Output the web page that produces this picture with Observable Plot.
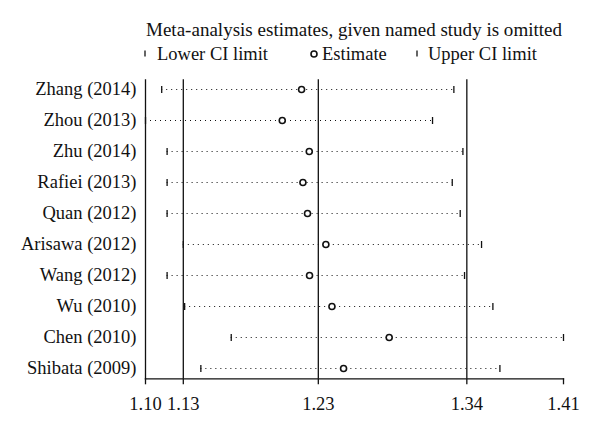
<!DOCTYPE html>
<html>
<head>
<meta charset="utf-8">
<script src="https://cdn.jsdelivr.net/npm/d3@7"></script>
<script src="https://cdn.jsdelivr.net/npm/@observablehq/plot@0.6"></script>
<style>
  html, body { margin: 0; padding: 0; background: #fff; }
  #wrap { position: relative; width: 600px; height: 435px; overflow: hidden; font-family: "Liberation Serif", "DejaVu Serif", serif; }
  #header { position: absolute; left: 0; top: 0; }
  #chart { position: absolute; left: 0; top: 70px; }
</style>
</head>
<body>
<div id="wrap">
  <svg id="header" width="600" height="70"></svg>
  <div id="chart"></div>
</div>
<script>
const title = "Meta-analysis estimates, given named study is omitted";
const legendLabels = ["Lower CI limit", "Estimate", "Upper CI limit"];

const studies = ["Zhang (2014)", "Zhou (2013)", "Zhu (2014)", "Rafiei (2013)", "Quan (2012)",
                 "Arisawa (2012)", "Wang (2012)", "Wu (2010)", "Chen (2010)", "Shibata (2009)"];
const lower    = [1.112, 1.100, 1.116, 1.116, 1.116, 1.128, 1.116, 1.129, 1.1635, 1.141];
const estimate = [1.2156, 1.2013, 1.2213, 1.2166, 1.2200, 1.2336, 1.2215, 1.2381, 1.2805, 1.2467];
const upper    = [1.3284, 1.3126, 1.3351, 1.3272, 1.3331, 1.3489, 1.3363, 1.3573, 1.4096, 1.3625];

// overall pooled estimate: lower CI, estimate, upper CI
const overall = [1.128, 1.228, 1.338];

const tickValues = [1.100, 1.128, 1.228, 1.338, 1.4096];
const tickLabels = ["1.10", "1.13", "1.23", "1.34", "1.41"];

const rows = studies.map((s, i) => ({study: s, lower: lower[i], estimate: estimate[i], upper: upper[i]}));

const vtick = { draw(ctx, size) { ctx.moveTo(0, -3.5); ctx.lineTo(0, 3.5); } };

// Header (title + legend)
const hdr = d3.select("#header");
const font = "Liberation Serif, DejaVu Serif, serif";
hdr.append("text").attr("x", 354).attr("y", 36).attr("text-anchor", "middle")
  .attr("font-family", font).attr("font-size", 19).attr("fill", "#111")
  .attr("textLength", 416).attr("lengthAdjust", "spacing").text(title);
const ly = 59.5;
hdr.append("line").attr("x1", 145).attr("x2", 145).attr("y1", ly - 9).attr("y2", ly - 3).attr("stroke", "#111").attr("stroke-width", 1.3);
hdr.append("text").attr("x", 157).attr("y", ly).attr("font-family", font).attr("font-size", 18.5).attr("fill", "#111").text(legendLabels[0]);
hdr.append("circle").attr("cx", 314).attr("cy", ly - 5.5).attr("r", 3).attr("fill", "white").attr("stroke", "#111").attr("stroke-width", 1.6);
hdr.append("text").attr("x", 322).attr("y", ly).attr("font-family", font).attr("font-size", 18.5).attr("fill", "#111").text(legendLabels[1]);
hdr.append("line").attr("x1", 417).attr("x2", 417).attr("y1", ly - 9).attr("y2", ly - 3).attr("stroke", "#111").attr("stroke-width", 1.3);
hdr.append("text").attr("x", 428).attr("y", ly).attr("font-family", font).attr("font-size", 18.5).attr("fill", "#111").text(legendLabels[2]);

const chart = Plot.plot({
  width: 600,
  height: 365,
  marginLeft: 145,
  marginRight: 37,
  marginTop: 9.3,
  marginBottom: 56.7,
  style: { fontFamily: font, fontSize: "18.5px", color: "#111", background: "white", overflow: "visible" },
  x: { domain: [1.100, 1.4096], label: null },
  y: { type: "point", domain: studies, range: [19, 298.3], padding: 0, label: null },
  marks: [
    Plot.ruleX(overall, { stroke: "#111", strokeWidth: 1.3 }),
    Plot.frame({ anchor: "left", stroke: "#111", strokeWidth: 1.3 }),
    Plot.frame({ anchor: "bottom", stroke: "#111", strokeWidth: 1.3 }),
    Plot.ruleY(rows, { y: "study", x1: "lower", x2: "upper", stroke: "#111", strokeWidth: 1.2, strokeDasharray: "1,4" }),
    Plot.dot(rows, { x: "lower", y: "study", symbol: vtick, fill: "none", stroke: "#111", strokeWidth: 1.3 }),
    Plot.dot(rows, { x: "upper", y: "study", symbol: vtick, fill: "none", stroke: "#111", strokeWidth: 1.3 }),
    Plot.dot(rows, { x: "estimate", y: "study", r: 3, fill: "white", stroke: "#111", strokeWidth: 1.6 }),
    Plot.axisX({ ticks: tickValues, tickFormat: d => tickLabels[tickValues.indexOf(d)], tickSize: 6, tickPadding: 12, strokeWidth: 1.3, fontSize: 18.5, label: null }),
    Plot.axisY({ tickSize: 0, tickPadding: 9, fontSize: 18.5, label: null })
  ]
});
document.getElementById("chart").appendChild(chart);
</script>
</body>
</html>
